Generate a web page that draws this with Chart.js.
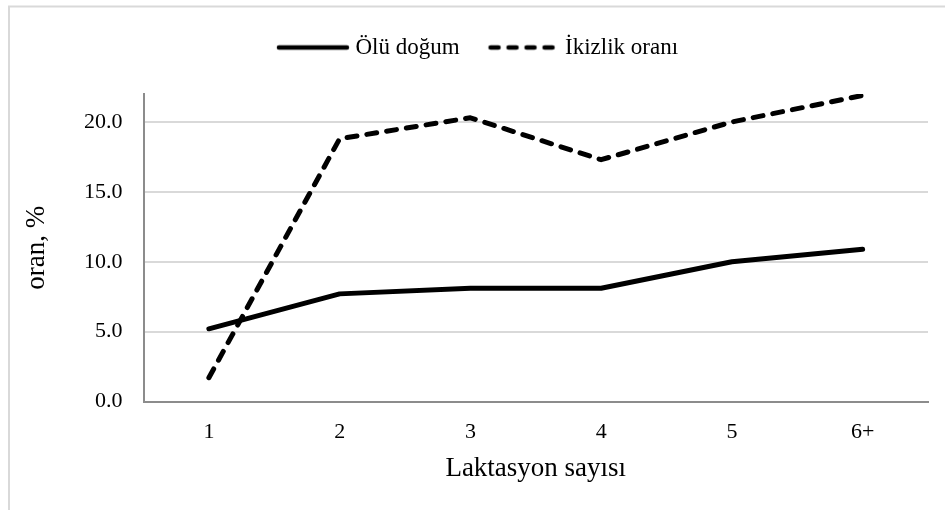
<!DOCTYPE html>
<html>
<head>
<meta charset="utf-8">
<script src="https://cdn.jsdelivr.net/npm/chart.js@4/dist/chart.umd.min.js"></script>
<style>
  html, body { margin: 0; padding: 0; background: #fff; }
  #wrap { width: 945px; height: 510px; position: relative; }
</style>
</head>
<body>
<div id="wrap"><canvas id="c" width="945" height="510"></canvas></div>
<script>
const categories = ['1', '2', '3', '4', '5', '6+'];
const oluDogum = [5.2, 7.7, 8.1, 8.1, 10.0, 10.9];
const ikizlikOrani = [1.7, 18.8, 20.3, 17.3, 20.0, 21.9];
const yTicks = [0, 5, 10, 15, 20];
const seriesNames = ['Ölü doğum', 'İkizlik oranı'];
const xTitle = 'Laktasyon sayısı';
const yTitle = 'oran, %';

const FONT = "'Liberation Serif', 'Times New Roman', serif";
const LINE_W = 5;

function legendSymbol(dashed) {
  const cv = document.createElement('canvas');
  cv.width = 74; cv.height = 10;
  const c = cv.getContext('2d');
  c.strokeStyle = '#000';
  c.lineWidth = 4.5;
  c.lineCap = 'round';
  c.beginPath();
  if (dashed) {
    for (let i = 0; i < 4; i++) {
      const x0 = 5 + i * 18;
      c.moveTo(x0, 5); c.lineTo(x0 + 8, 5);
    }
  } else {
    c.moveTo(3, 5); c.lineTo(71, 5);
  }
  c.stroke();
  return cv;
}

const framePlugin = {
  id: 'frame',
  beforeDraw(chart) {
    const ctx = chart.ctx;
    ctx.save();
    ctx.fillStyle = '#ffffff';
    ctx.fillRect(0, 0, chart.width, chart.height);
    ctx.strokeStyle = '#d9d9d9';
    ctx.lineWidth = 2;
    ctx.beginPath();
    ctx.moveTo(9, chart.height);
    ctx.lineTo(9, 6.5);
    ctx.lineTo(chart.width, 6.5);
    ctx.stroke();
    ctx.restore();
  }
};

const TOP_PAD = 4;
const legendHeightPlugin = {
  id: 'legendHeight',
  beforeLayout(chart) {
    const lg = chart.legend;
    if (lg && !lg._patched) {
      const orig = lg.fit;
      lg.fit = function () {
        orig.call(this);
        this.height = 94 - TOP_PAD;
      };
      lg._patched = true;
    }
  },
  afterLayout(chart) {
    const lg = chart.legend;
    if (lg) { lg.left += 12; lg.right += 12; }
  }
};

new Chart(document.getElementById('c'), {
  type: 'line',
  data: {
    labels: categories,
    datasets: [
      {
        label: seriesNames[0],
        data: oluDogum,
        borderColor: '#000000',
        backgroundColor: '#000000',
        borderWidth: LINE_W,
        borderCapStyle: 'round',
        borderJoinStyle: 'round',
        pointRadius: 0,
        pointStyle: legendSymbol(false),
        tension: 0
      },
      {
        label: seriesNames[1],
        data: ikizlikOrani,
        borderColor: '#000000',
        backgroundColor: '#000000',
        borderWidth: LINE_W,
        borderDash: [10, 10],
        borderCapStyle: 'round',
        borderJoinStyle: 'round',
        pointRadius: 0,
        pointStyle: legendSymbol(true),
        tension: 0
      }
    ]
  },
  options: {
    responsive: false,
    animation: false,
    devicePixelRatio: 1,
    layout: { padding: { top: TOP_PAD, left: 8, right: 17, bottom: 0 } },
    plugins: {
      tooltip: { enabled: false },
      legend: {
        display: true,
        position: 'top',
        align: 'center',
        labels: {
          usePointStyle: true,
          pointStyleWidth: 62,
          padding: 32,
          color: '#000000',
          font: { family: FONT, size: 23 }
        }
      }
    },
    scales: {
      x: {
        type: 'category',
        offset: true,
        grid: { display: false, drawTicks: false },
        border: { display: true, color: '#8c8c8c', width: 2 },
        ticks: {
          color: '#000000',
          padding: 18,
          font: { family: FONT, size: 22 }
        },
        title: {
          display: true,
          text: xTitle,
          color: '#000000',
          font: { family: FONT, size: 27 },
          padding: { top: 0, bottom: 25 }
        },
        afterFit(scale) { scale.height = 510 - 401.5; }
      },
      y: {
        min: 0,
        max: 22,
        grid: { color: '#d9d9d9', lineWidth: 2, drawTicks: false },
        border: { display: true, color: '#8c8c8c', width: 2 },
        afterBuildTicks(scale) {
          scale.ticks = yTicks.map(v => ({ value: v }));
        },
        ticks: {
          color: '#000000',
          padding: 21,
          font: { family: FONT, size: 22 },
          callback: (v) => Number(v).toFixed(1)
        },
        title: {
          display: true,
          text: yTitle,
          color: '#000000',
          font: { family: FONT, size: 27 },
          padding: { top: 13, bottom: 0 }
        },
        afterFit(scale) { scale.width = 143.5 - 8; }
      }
    }
  },
  plugins: [framePlugin, legendHeightPlugin]
});
</script>
</body>
</html>
